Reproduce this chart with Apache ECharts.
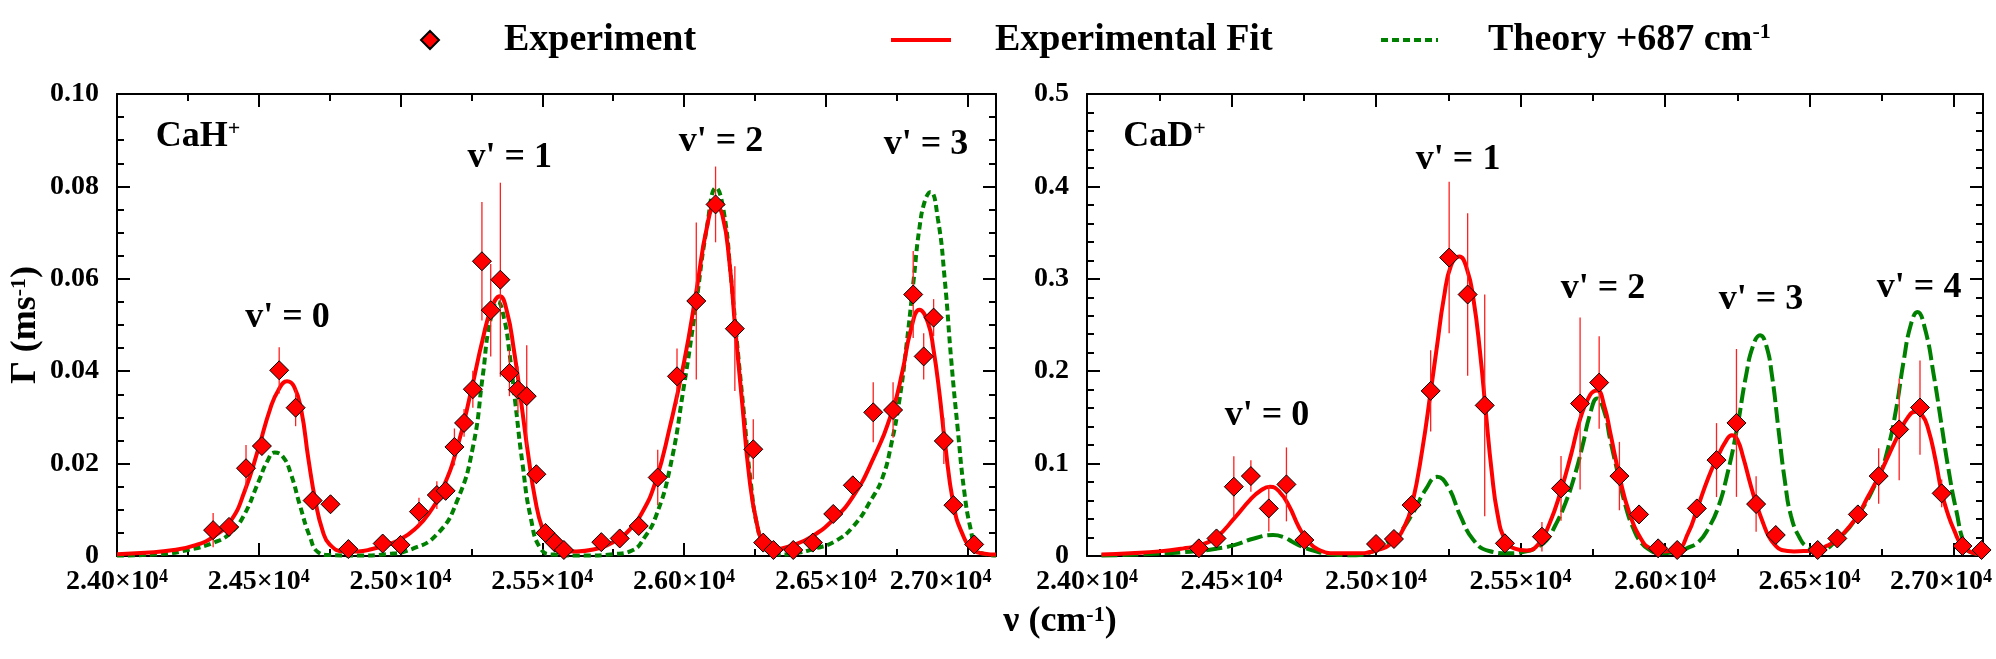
<!DOCTYPE html>
<html>
<head>
<meta charset="utf-8">
<script src="https://cdn.jsdelivr.net/npm/echarts@6/dist/echarts.min.js"></script>
<style>
html,body{margin:0;padding:0;background:#fff;}
#chart{width:1996px;height:659px;}
</style>
</head>
<body>
<div id="chart"></div>
<script>
// ---------------- DATA ----------------
const xMajor = [24000, 24500, 25000, 25500, 26000, 26500, 27000];
const xMajorText = ['2.40', '2.45', '2.50', '2.55', '2.60', '2.65', '2.70'];
const xMinor = [24250, 24750, 25250, 25750, 26250, 26750];
const yTicksH = ['0', '0.02', '0.04', '0.06', '0.08', '0.10'];
const yTicksD = ['0', '0.1', '0.2', '0.3', '0.4', '0.5'];

// CaH+ experiment
const hNu = [24339,24395,24455,24511,24572,24630,24690,24753,24816,
  24937,25000,25065,25128,25159,25190,25224,25255,25287,25318,25352,25384,25414,25445,25479,25511,25544,25576,
  25708,25773,25840,25907,25975,26043,26111,26179,26244,26279,26315,26385,26454,
  26526,26595,26667,26737,26808,26845,26880,26916,26950,27023];
const hVal = [0.0056,0.0063,0.019,0.0238,0.0402,0.0321,0.012,0.0112,0.0015,
  0.0027,0.0024,0.0096,0.0132,0.0141,0.0236,0.0288,0.0361,0.0638,0.0532,0.0598,0.0396,0.036,0.0346,0.0177,0.005,0.0029,0.0013,
  0.003,0.0038,0.0065,0.017,0.0389,0.0552,0.0761,0.0492,0.0231,0.0029,0.0013,0.0013,0.0029,
  0.0091,0.0153,0.0311,0.0316,0.0566,0.0432,0.0516,0.0249,0.011,0.0025];
const hErr = [0.0037,0.001,0.005,0.002,0.005,0.004,0.001,0.001,0.001,
  0.001,0.001,0.003,0.003,0.002,0.004,0.003,0.004,0.0128,0.01,0.021,0.005,0.005,0.011,0.002,0.001,0.001,0.001,
  0.001,0.001,0.001,0.006,0.006,0.017,0.0082,0.0135,0.0065,0.001,0.001,0.001,0.001,
  0.001,0.002,0.0065,0.006,0.0094,0.005,0.004,0.005,0.002,0.001];

// CaH+ fit and theory curves [nu, value]
const hFit = [[24000,0.0004],[24100,0.0007],[24200,0.0013],[24280,0.0024],[24340,0.0042],[24400,0.0075],[24450,0.0140],[24500,0.0235],[24540,0.0318],[24570,0.0360],[24600,0.0378],[24625,0.0366],[24650,0.0315],[24675,0.0210],[24700,0.0118],[24725,0.0055],[24750,0.0025],[24800,0.0010],[24850,0.0010],[24900,0.0015],[24950,0.0024],[25000,0.0036],[25050,0.0058],[25100,0.0092],[25150,0.0148],[25200,0.0235],[25250,0.0360],[25290,0.0470],[25320,0.0535],[25350,0.0562],[25375,0.0530],[25400,0.0445],[25425,0.0335],[25450,0.0220],[25475,0.0122],[25500,0.0060],[25530,0.0025],[25560,0.0012],[25620,0.0010],[25680,0.0014],[25750,0.0030],[25800,0.0052],[25850,0.0092],[25900,0.0162],[25950,0.0280],[26000,0.0420],[26045,0.0580],[26080,0.0710],[26110,0.0760],[26135,0.0738],[26160,0.0635],[26180,0.0495],[26205,0.0330],[26230,0.0170],[26255,0.0075],[26280,0.0030],[26320,0.0015],[26385,0.0024],[26450,0.0042],[26525,0.0078],[26595,0.0128],[26665,0.0208],[26735,0.0315],[26770,0.0400],[26800,0.0490],[26830,0.0533],[26860,0.0505],[26880,0.0445],[26900,0.0355],[26920,0.0245],[26950,0.0112],[26980,0.0050],[27020,0.0013],[27060,0.0005],[27100,0.0003]];
const hTheory = [[24000,0.0001],[24150,0.0004],[24250,0.0013],[24350,0.0031],[24400,0.0050],[24445,0.0085],[24500,0.0162],[24530,0.0205],[24556,0.0224],[24585,0.0215],[24612,0.0180],[24645,0.0110],[24680,0.0042],[24710,0.0008],[24750,0.0002],[24850,0.0001],[24950,0.0004],[25040,0.0015],[25130,0.0048],[25200,0.0120],[25255,0.0235],[25290,0.0390],[25315,0.0505],[25343,0.0550],[25365,0.0515],[25385,0.0435],[25405,0.0330],[25430,0.0200],[25460,0.0080],[25495,0.0015],[25540,0.0003],[25650,0.0001],[25750,0.0004],[25820,0.0013],[25860,0.0040],[25900,0.0085],[25950,0.0190],[26000,0.0370],[26040,0.0535],[26080,0.0710],[26113,0.0797],[26140,0.0745],[26165,0.0605],[26190,0.0440],[26210,0.0315],[26235,0.0160],[26260,0.0060],[26290,0.0015],[26330,0.0003],[26394,0.0006],[26460,0.0016],[26530,0.0031],[26595,0.0063],[26663,0.0125],[26700,0.0170],[26730,0.0240],[26760,0.0340],[26785,0.0460],[26810,0.0600],[26830,0.0710],[26850,0.0770],[26869,0.0788],[26895,0.0730],[26919,0.0600],[26942,0.0425],[26965,0.0275],[26988,0.0140],[27010,0.0060],[27033,0.0015],[27070,0.0003],[27100,0.0001]];

// CaD+ experiment
const dNu = [24387,24448,24508,24567,24629,24690,24752,
  25000,25062,25123,25189,25253,25317,25376,25446,
  25574,25640,25706,25772,25842,25910,25976,26042,
  26110,26178,26247,26315,26383,
  26528,26596,26667,26739,26810,26882,26957,27029,27095];
const dVal = [0.0083,0.019,0.075,0.0865,0.0515,0.0775,0.0173,
  0.013,0.0184,0.0551,0.1787,0.323,0.283,0.163,0.0137,
  0.0209,0.0732,0.165,0.1877,0.0865,0.045,0.0083,0.0065,
  0.0515,0.1038,0.144,0.0562,0.0227,
  0.0065,0.019,0.045,0.0865,0.137,0.1607,0.0678,0.0108,0.0065];
const dErr = [0.004,0.008,0.033,0.017,0.025,0.04,0.005,
  0.006,0.005,0.01,0.044,0.082,0.088,0.12,0.005,
  0.016,0.035,0.093,0.05,0.037,0.008,0.003,0.003,
  0.008,0.04,0.08,0.03,0.01,
  0.003,0.005,0.01,0.03,0.055,0.051,0.015,0.005,0.003];

const dFit = [[24050,0.0015],[24150,0.0030],[24250,0.0050],[24330,0.0080],[24390,0.0115],[24450,0.0210],[24510,0.0410],[24565,0.0610],[24600,0.0706],[24633,0.0750],[24666,0.0695],[24700,0.0535],[24732,0.0320],[24765,0.0160],[24800,0.0070],[24860,0.0030],[24930,0.0030],[25000,0.0060],[25060,0.0155],[25100,0.0330],[25125,0.0560],[25160,0.1150],[25190,0.1800],[25210,0.2250],[25235,0.2800],[25260,0.3150],[25288,0.3240],[25315,0.3100],[25337,0.2780],[25360,0.2200],[25380,0.1550],[25400,0.0920],[25420,0.0460],[25446,0.0180],[25480,0.0080],[25520,0.0060],[25560,0.0120],[25600,0.0350],[25640,0.0710],[25675,0.1100],[25706,0.1480],[25740,0.1740],[25765,0.1790],[25790,0.1620],[25810,0.1340],[25842,0.0865],[25875,0.0480],[25919,0.0173],[25950,0.0080],[25990,0.0050],[26042,0.0070],[26080,0.0250],[26110,0.0500],[26150,0.0850],[26180,0.1060],[26210,0.1240],[26231,0.1308],[26250,0.1260],[26271,0.1060],[26295,0.0780],[26315,0.0570],[26340,0.0350],[26359,0.0210],[26380,0.0120],[26403,0.0065],[26446,0.0050],[26490,0.0055],[26528,0.0065],[26560,0.0110],[26596,0.0180],[26630,0.0290],[26667,0.0440],[26700,0.0630],[26739,0.0860],[26775,0.1100],[26810,0.1330],[26840,0.1500],[26865,0.1560],[26890,0.1520],[26910,0.1380],[26935,0.1050],[26957,0.0690],[26980,0.0440],[27000,0.0280],[27029,0.0100],[27060,0.0040],[27095,0.0020]];
const dTheory = [[24050,0.0005],[24200,0.0020],[24358,0.0047],[24450,0.0080],[24512,0.0120],[24578,0.0190],[24644,0.0227],[24680,0.0205],[24710,0.0155],[24745,0.0100],[24776,0.0065],[24842,0.0020],[24930,0.0008],[24980,0.0040],[25018,0.0108],[25050,0.0170],[25084,0.0260],[25128,0.0469],[25172,0.0720],[25211,0.0857],[25249,0.0750],[25293,0.0426],[25337,0.0173],[25391,0.0054],[25457,0.0030],[25520,0.0050],[25560,0.0100],[25590,0.0170],[25620,0.0330],[25655,0.0570],[25690,0.0900],[25715,0.1200],[25740,0.1530],[25765,0.1705],[25790,0.1560],[25810,0.1260],[25840,0.0850],[25864,0.0533],[25890,0.0300],[25919,0.0137],[25950,0.0060],[25976,0.0030],[26042,0.0047],[26080,0.0090],[26117,0.0155],[26150,0.0300],[26183,0.0520],[26215,0.0880],[26249,0.1380],[26280,0.1950],[26305,0.2280],[26329,0.2390],[26350,0.2280],[26370,0.1950],[26392,0.1380],[26415,0.0800],[26436,0.0430],[26465,0.0200],[26491,0.0100],[26530,0.0060],[26600,0.0190],[26667,0.0440],[26739,0.0860],[26770,0.1150],[26800,0.1600],[26825,0.2100],[26850,0.2500],[26873,0.2640],[26900,0.2450],[26930,0.1950],[26955,0.1450],[26980,0.0950],[27007,0.0500],[27040,0.0100],[27070,0.0030],[27100,0.0020]];

// Annotations (text anchored at data coordinates)
const hAnnText = ["v' = 0", "v' = 1", "v' = 2", "v' = 3"];
const hAnnNu = [24601, 25385, 26130, 26853];
const hAnnVal = [0.0515, 0.0863, 0.0897, 0.0891];
const dAnnText = ["v' = 0", "v' = 1", "v' = 2", "v' = 3", "v' = 4"];
const dAnnNu = [24623, 25284, 25785, 26332, 26879];
const dAnnVal = [0.152, 0.429, 0.289, 0.277, 0.290];
const molName = ['CaH', 'CaD'];
const molNu = [24137, 24125];
const molVal = [0.0908, 0.454];

// ---------------- CHART ----------------
const FONT = 'Liberation Serif';
const chart = echarts.init(document.getElementById('chart'), null, {renderer: 'canvas', width: 1996, height: 659});

const axisLine = {show: true, lineStyle: {color: '#000', width: 2}};
const tickStyle = {color: '#000', width: 2};

function xLabelFormatter(v) {
  const i = xMajor.indexOf(v);
  if (i < 0) return '';
  const last = i === xMajor.length - 1;
  return '{n|' + xMajorText[i] + '×10}{s|4}' + (last ? '{p| }' : '');
}
function xAxesFor(gridIndex, lastPad) {
  const base = {type: 'value', gridIndex: gridIndex, min: 24000, max: 27100, splitLine: {show: false}};
  return [
    Object.assign({}, base, {
      position: 'bottom', axisLine: axisLine,
      axisTick: {show: true, inside: true, length: 13, lineStyle: tickStyle, customValues: xMajor},
      axisLabel: {show: true, customValues: xMajor, margin: 12, formatter: xLabelFormatter,
        color: '#000', fontFamily: FONT, fontWeight: 'bold', fontSize: 28,
        rich: {
          n: {fontFamily: FONT, fontWeight: 'bold', fontSize: 28, color: '#000'},
          s: {fontFamily: FONT, fontWeight: 'bold', fontSize: 18, color: '#000', verticalAlign: 'top'},
          p: {width: lastPad}
        }}
    }),
    Object.assign({}, base, {
      position: 'bottom', axisLine: {show: false},
      axisTick: {show: true, inside: true, length: 7, lineStyle: tickStyle, customValues: xMinor},
      axisLabel: {show: false}
    }),
    Object.assign({}, base, {
      position: 'top', axisLine: axisLine,
      axisTick: {show: true, inside: true, length: 13, lineStyle: tickStyle, customValues: xMajor},
      axisLabel: {show: false}
    }),
    Object.assign({}, base, {
      position: 'top', axisLine: {show: false},
      axisTick: {show: true, inside: true, length: 7, lineStyle: tickStyle, customValues: xMinor},
      axisLabel: {show: false}
    })
  ];
}
function yAxesFor(gridIndex, max, interval, minorSplit, labels) {
  const base = {type: 'value', gridIndex: gridIndex, min: 0, max: max, interval: interval,
    splitLine: {show: false}, axisLine: axisLine,
    axisTick: {show: true, inside: true, length: 13, lineStyle: tickStyle},
    minorTick: {show: true, splitNumber: minorSplit, length: 7, lineStyle: tickStyle}};
  return [
    Object.assign({}, base, {position: 'left',
      axisLabel: {show: true, margin: 18, color: '#000', fontFamily: FONT, fontWeight: 'bold', fontSize: 28,
        formatter: function (v) { return labels[Math.round(v / interval)]; }}}),
    Object.assign({}, base, {position: 'right', axisLabel: {show: false}})
  ];
}

function errRender(params, api) {
  const x = api.value(0), y = api.value(1), e = api.value(2);
  const p1 = api.coord([x, y - e]);
  const p2 = api.coord([x, y + e]);
  return {type: 'line', shape: {x1: p1[0], y1: p1[1], x2: p2[0], y2: p2[1]},
    style: {stroke: '#ff2020', lineWidth: 1.3}};
}
function zip3(a, b, c) { return a.map(function (v, i) { return c ? [v, b[i], c[i]] : [v, b[i]]; }); }

const annLabel = {show: true, position: 'inside', color: '#000', fontFamily: FONT, fontWeight: 'bold', fontSize: 36,
  textBorderWidth: 0, textBorderColor: 'transparent', opacity: 1, formatter: '{b}'};
function annData(texts, nus, vals) {
  return texts.map(function (t, i) { return {name: t, value: [nus[i], vals[i]]}; });
}
function molItem(i) {
  return {name: molName[i], value: [molNu[i], molVal[i]],
    label: {show: true, position: 'right', distance: 0, formatter: '{m|' + molName[i] + '}{s|+}',
      textBorderWidth: 0, textBorderColor: 'transparent',
      rich: {m: {fontFamily: FONT, fontWeight: 'bold', fontSize: 36, color: '#000'},
             s: {fontFamily: FONT, fontWeight: 'bold', fontSize: 22, color: '#000', verticalAlign: 'top'}}}};
}

const expStyle = {type: 'scatter', name: 'Experiment', symbol: 'diamond', symbolSize: 19, z: 5,
  itemStyle: {color: '#ff0000', borderColor: '#000', borderWidth: 1, opacity: 1}};
const fitStyle = {type: 'line', name: 'Experimental Fit', showSymbol: false, symbol: 'none', smooth: 0.5,
  z: 3, lineStyle: {color: '#ff0000', width: 4}, itemStyle: {color: '#ff0000'}};
const theoryName = 'Theory +687 cm-1';
const legendText = {color: '#000', fontFamily: FONT, fontWeight: 'bold', fontSize: 38};

const option = {
  animation: false,
  backgroundColor: '#fff',
  textStyle: {fontFamily: FONT, color: '#000'},
  grid: [
    {left: 117, right: 1000, top: 94, bottom: 103, outerBoundsMode: 'none', containLabel: false},
    {left: 1087, right: 13, top: 94, bottom: 103, outerBoundsMode: 'none', containLabel: false}
  ],
  xAxis: xAxesFor(0, 54).concat(xAxesFor(1, 26)),
  yAxis: yAxesFor(0, 0.10, 0.02, 4, yTicksH).concat(yAxesFor(1, 0.5, 0.1, 5, yTicksD)),
  legend: [
    {data: ['Experiment'], left: 420, top: 21, padding: 0, itemWidth: 18, itemHeight: 18, selectedMode: false,
      formatter: '{g| }Experiment',
      textStyle: Object.assign({rich: {g: {width: 60}}}, legendText)},
    {data: ['Experimental Fit'], left: 889, top: 21, padding: 0, itemWidth: 60, itemHeight: 18, selectedMode: false,
      itemStyle: {opacity: 0}, lineStyle: {width: 4, color: '#ff0000'},
      formatter: '{g| }Experimental Fit',
      textStyle: Object.assign({rich: {g: {width: 39}}}, legendText)},
    {data: [theoryName], left: 1379, top: 21, padding: 0, itemWidth: 57, itemHeight: 18, selectedMode: false,
      itemStyle: {opacity: 0}, lineStyle: {width: 4, color: '#008000', type: [7, 4]},
      formatter: '{g| }Theory +687 cm{s|-1}',
      textStyle: Object.assign({rich: {g: {width: 45},
        s: {fontFamily: FONT, fontWeight: 'bold', fontSize: 22, color: '#000', verticalAlign: 'top'}}}, legendText)}
  ],
  graphic: [
    {type: 'text', x: 26, y: 325, rotation: Math.PI / 2,
      style: {text: 'Γ (ms{s|-1})', fill: '#000', fontFamily: FONT, fontWeight: 'bold', fontSize: 36,
        align: 'center', verticalAlign: 'middle',
        rich: {s: {fontFamily: FONT, fontWeight: 'bold', fontSize: 22, fill: '#000', verticalAlign: 'top'}}}},
    {type: 'text', x: 1060, y: 622,
      style: {text: 'ν (cm{s|-1})', fill: '#000', fontFamily: FONT, fontWeight: 'bold', fontSize: 36,
        align: 'center', verticalAlign: 'middle',
        rich: {s: {fontFamily: FONT, fontWeight: 'bold', fontSize: 22, fill: '#000', verticalAlign: 'top'}}}}
  ],
  series: [
    // ---- CaH+ panel ----
    {type: 'line', name: theoryName, xAxisIndex: 0, yAxisIndex: 0, data: hTheory, showSymbol: false, symbol: 'none',
      smooth: 0.5, z: 2, lineStyle: {color: '#008000', width: 4, type: [7, 4]}, itemStyle: {color: '#008000'}},
    Object.assign({}, fitStyle, {xAxisIndex: 0, yAxisIndex: 0, data: hFit}),
    {type: 'custom', name: 'errH', xAxisIndex: 0, yAxisIndex: 0, renderItem: errRender, z: 4,
      data: zip3(hNu, hVal, hErr), encode: {x: 0, y: 1}},
    Object.assign({}, expStyle, {xAxisIndex: 0, yAxisIndex: 0, data: zip3(hNu, hVal)}),
    // ---- CaD+ panel ----
    {type: 'line', name: theoryName, xAxisIndex: 4, yAxisIndex: 2, data: dTheory, showSymbol: false, symbol: 'none',
      smooth: 0.5, z: 2, lineStyle: {color: '#008000', width: 4, type: [16, 5]}, itemStyle: {color: '#008000'}},
    Object.assign({}, fitStyle, {xAxisIndex: 4, yAxisIndex: 2, data: dFit}),
    {type: 'custom', name: 'errD', xAxisIndex: 4, yAxisIndex: 2, renderItem: errRender, z: 4,
      data: zip3(dNu, dVal, dErr), encode: {x: 0, y: 1}},
    Object.assign({}, expStyle, {xAxisIndex: 4, yAxisIndex: 2, data: zip3(dNu, dVal)}),
    // ---- annotations ----
    {type: 'scatter', name: 'annH', xAxisIndex: 0, yAxisIndex: 0, symbolSize: 0, silent: true, z: 6,
      label: annLabel, data: annData(hAnnText, hAnnNu, hAnnVal).concat([molItem(0)])},
    {type: 'scatter', name: 'annD', xAxisIndex: 4, yAxisIndex: 2, symbolSize: 0, silent: true, z: 6,
      label: annLabel, data: annData(dAnnText, dAnnNu, dAnnVal).concat([molItem(1)])}
  ]
};
chart.setOption(option);
</script>
</body>
</html>
